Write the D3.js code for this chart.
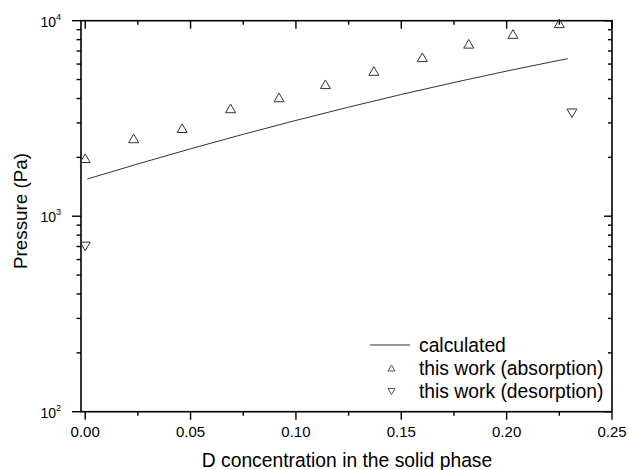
<!DOCTYPE html>
<html>
<head>
<meta charset="utf-8">
<script src="https://cdn.jsdelivr.net/npm/d3@7"></script>
<style>
  body { margin: 0; background: #fff; }
  text { font-family: "Liberation Sans", Arial, sans-serif; fill: #000; }
</style>
</head>
<body>
<div id="chart"></div>
<script>
var width = 629, height = 470;

// absorption points (up triangles)
var absX = [0.000, 0.023, 0.046, 0.069, 0.092, 0.114, 0.137, 0.160, 0.182, 0.203, 0.225];
var absP = [1980, 2500, 2820, 3560, 4050, 4730, 5530, 6500, 7620, 8550, 9700];
// desorption points (down triangles)
var desX = [0.000, 0.231];
var desP = [700, 3360];
// calculated curve
var calcX = [0.001, 0.025, 0.05, 0.075, 0.1, 0.125, 0.15, 0.175, 0.2, 0.229];
var calcP = [1549, 1851, 2212, 2624, 3090, 3613, 4195, 4831, 5524, 6394];

var xTicks = [0, 0.05, 0.1, 0.15, 0.2, 0.25];
var xMinor = [0.025, 0.075, 0.125, 0.175, 0.225];
var yTicks = [100, 1000, 10000];
var legendLabels = ["calculated", "this work (absorption)", "this work (desorption)"];

// plot box (note: "top" is taken by window.top, so use other names)
var pLeft = 81, pRight = 612, pTop = 20.7, pBottom = 411.7;

var x = d3.scaleLinear().domain([-0.002, 0.25]).range([pLeft, pRight]);
var y = d3.scaleLog().domain([100, 10000]).range([pBottom, pTop]);

var svg = d3.select('#chart').append('svg')
  .attr('width', width).attr('height', height);

var yMinor = [];
[100, 1000].forEach(function(d) { for (var k = 2; k <= 9; k++) yMinor.push(d * k); });

// frame
svg.append('rect')
  .attr('x', pLeft).attr('y', pTop)
  .attr('width', pRight - pLeft).attr('height', pBottom - pTop)
  .attr('fill', 'none').attr('stroke', '#000').attr('stroke-width', 1.6);

var ticks = svg.append('g').attr('stroke', '#000').attr('stroke-width', 1.4);

// bottom (outward) and top (inward) ticks
xTicks.forEach(function(d) {
  ticks.append('line').attr('x1', x(d)).attr('x2', x(d)).attr('y1', pBottom).attr('y2', pBottom + 8);
  ticks.append('line').attr('x1', x(d)).attr('x2', x(d)).attr('y1', pTop).attr('y2', pTop + 8);
});
xMinor.forEach(function(d) {
  ticks.append('line').attr('x1', x(d)).attr('x2', x(d)).attr('y1', pBottom).attr('y2', pBottom + 4);
  ticks.append('line').attr('x1', x(d)).attr('x2', x(d)).attr('y1', pTop).attr('y2', pTop + 4);
});
// left (outward) and right (inward) ticks
yTicks.forEach(function(d) {
  ticks.append('line').attr('y1', y(d)).attr('y2', y(d)).attr('x1', pLeft - 9).attr('x2', pLeft);
  ticks.append('line').attr('y1', y(d)).attr('y2', y(d)).attr('x1', pRight - 8).attr('x2', pRight);
});
yMinor.forEach(function(d) {
  ticks.append('line').attr('y1', y(d)).attr('y2', y(d)).attr('x1', pLeft - 4.5).attr('x2', pLeft);
  ticks.append('line').attr('y1', y(d)).attr('y2', y(d)).attr('x1', pRight - 4).attr('x2', pRight);
});

// tick labels
svg.append('g').selectAll('text').data(xTicks).join('text')
  .attr('x', d => x(d)).attr('y', pBottom + 25)
  .attr('text-anchor', 'middle').attr('font-size', 15)
  .text(d => d3.format('.2f')(d));

var yl = svg.append('g').selectAll('text').data(yTicks).join('text')
  .attr('x', 61).attr('y', d => y(d) + 6)
  .attr('text-anchor', 'end').attr('font-size', 14);
yl.append('tspan').text('10');
yl.append('tspan').attr('dy', -7).attr('font-size', 9).text(d => Math.round(Math.log10(d)));

// axis titles
svg.append('text')
  .attr('x', 347).attr('y', 467)
  .attr('text-anchor', 'middle').attr('font-size', 19.3)
  .text('D concentration in the solid phase');
svg.append('text')
  .attr('transform', 'translate(27,' + 211 + ') rotate(-90)')
  .attr('text-anchor', 'middle').attr('font-size', 18.8)
  .text('Pressure (Pa)');

// calculated line
var line = d3.line().x(d => x(d[0])).y(d => y(d[1])).curve(d3.curveMonotoneX);
svg.append('path')
  .datum(d3.zip(calcX, calcP))
  .attr('d', line)
  .attr('fill', 'none').attr('stroke', '#333').attr('stroke-width', 1);

function tri(w, up) {
  var hw = w / 2, hh = w * 0.433;
  return up
    ? 'M0,' + (-hh) + 'L' + hw + ',' + hh + 'L' + (-hw) + ',' + hh + 'Z'
    : 'M0,' + hh + 'L' + hw + ',' + (-hh) + 'L' + (-hw) + ',' + (-hh) + 'Z';
}

svg.append('g').selectAll('path').data(d3.zip(absX, absP)).join('path')
  .attr('transform', d => 'translate(' + x(d[0]) + ',' + y(d[1]) + ')')
  .attr('d', tri(10, true))
  .attr('fill', 'none').attr('stroke', '#333').attr('stroke-width', 1);

svg.append('g').selectAll('path').data(d3.zip(desX, desP)).join('path')
  .attr('transform', d => 'translate(' + x(d[0]) + ',' + y(d[1]) + ')')
  .attr('d', tri(10, false))
  .attr('fill', 'none').attr('stroke', '#333').attr('stroke-width', 1);

// legend
var lg = svg.append('g');
var rowY = [345, 368, 391.5];
lg.append('line').attr('x1', 370).attr('x2', 410).attr('y1', rowY[0]).attr('y2', rowY[0])
  .attr('stroke', '#333').attr('stroke-width', 1);
lg.append('path').attr('transform', 'translate(391.5,' + rowY[1] + ')').attr('d', tri(7, true))
  .attr('fill', 'none').attr('stroke', '#555').attr('stroke-width', 1);
lg.append('path').attr('transform', 'translate(391.5,' + rowY[2] + ')').attr('d', tri(7, false))
  .attr('fill', 'none').attr('stroke', '#555').attr('stroke-width', 1);
lg.selectAll('text').data(legendLabels).join('text')
  .attr('x', 419).attr('y', (d, i) => rowY[i] + 6.5)
  .attr('font-size', 19.3)
  .text(d => d);
</script>
</body>
</html>
